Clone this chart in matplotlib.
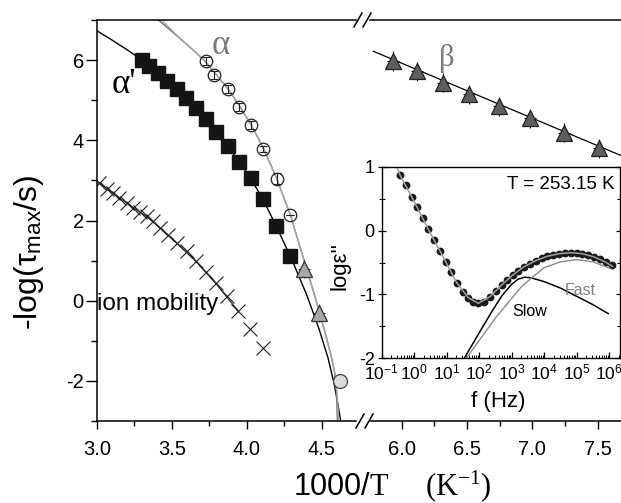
import numpy as np
import matplotlib.pyplot as plt
from matplotlib.lines import Line2D
from matplotlib.ticker import MultipleLocator, LogLocator, NullFormatter

plt.rcParams['font.family'] = ['Liberation Sans', 'DejaVu Sans']
plt.rcParams['axes.unicode_minus'] = False
plt.rcParams['mathtext.fontset'] = 'custom'
plt.rcParams['mathtext.rm'] = 'Liberation Serif'
plt.rcParams['mathtext.it'] = 'Liberation Serif:italic'

# ---- main panel data (x = 1000/T, y = -log tau) ----
sq_x = [3.298, 3.349, 3.404, 3.469, 3.531, 3.591, 3.658, 3.727, 3.791, 3.871,
        3.947, 4.025, 4.109, 4.192, 4.287]
sq_y = [6.00, 5.86, 5.67, 5.48, 5.28, 5.05, 4.80, 4.53, 4.21, 3.86,
        3.47, 3.05, 2.53, 1.86, 1.12]

circ_x = [3.724, 3.780, 3.875, 3.949, 4.027, 4.109, 4.198, 4.287]
circ_y = [5.97, 5.63, 5.28, 4.84, 4.38, 3.79, 3.04, 2.14]
circ_err = [0.10, 0.10, 0.10, 0.10, 0.10, 0.08, 0.14, 0.0]

tri_left_x = [4.382, 4.482]
tri_left_y = [0.79, -0.31]
gray_circ_x = [4.62]
gray_circ_y = [-2.0]

beta_x = [5.936, 6.12, 6.314, 6.517, 6.747, 6.982, 7.244, 7.512]
beta_y = [5.98, 5.72, 5.44, 5.15, 4.85, 4.55, 4.19, 3.80]
beta_line_x = [5.783, 7.678]
beta_line_y = [6.22, 3.62]

ion_x = [3.015, 3.065, 3.105, 3.149, 3.198, 3.242, 3.287, 3.331, 3.375, 3.420,
         3.473, 3.531, 3.597, 3.660, 3.727, 3.793, 3.867, 3.940, 4.020, 4.109]
ion_y = [2.94, 2.79, 2.69, 2.57, 2.44, 2.32, 2.21, 2.11, 1.98, 1.82,
         1.63, 1.44, 1.23, 0.98, 0.71, 0.43, 0.11, -0.25, -0.70, -1.18]
ion_line_x = [3.00, 3.065, 3.149, 3.242, 3.331, 3.420, 3.531, 3.660, 3.793, 3.940]
ion_line_y = [2.98, 2.80, 2.57, 2.32, 2.10, 1.82, 1.44, 0.98, 0.43, -0.25]

# fitted curves
ap_line_x = [3.00, 3.10, 3.20, 3.30, 3.40, 3.50, 3.60, 3.70, 3.80, 3.90,
             4.00, 4.10, 4.20, 4.30, 4.40, 4.48, 4.54, 4.58, 4.605, 4.625]
ap_line_y = [6.73, 6.50, 6.26, 6.00, 5.69, 5.38, 5.02, 4.64, 4.18, 3.71,
             3.19, 2.58, 1.82, 1.02, 0.13, -0.70, -1.42, -2.05, -2.55, -3.0]

a_line_x = [3.41, 3.55, 3.65, 3.72, 3.80, 3.88, 3.95, 4.03, 4.11, 4.20,
            4.29, 4.38, 4.44, 4.487, 4.53, 4.564, 4.585, 4.597, 4.603]
a_line_y = [7.00, 6.55, 6.22, 5.97, 5.62, 5.25, 4.86, 4.37, 3.80, 3.03,
            2.13, 1.02, 0.28, -0.33, -0.92, -1.42, -1.80, -2.30, -3.0]
a_line2_x = [3.43, 3.56, 3.66, 3.725, 3.80, 3.88, 3.95, 4.03, 4.11, 4.20,
             4.29, 4.38, 4.44, 4.487, 4.53, 4.565, 4.588, 4.602, 4.612]
a_line2_y = [7.00, 6.52, 6.19, 5.96, 5.62, 5.25, 4.86, 4.37, 3.80, 3.03,
             2.13, 1.00, 0.26, -0.35, -0.95, -1.45, -1.85, -2.35, -3.0]

# ---- inset data (log10 f, log eps'') ----
dot_logf = [-0.437, -0.252, -0.077, 0.095, 0.262, 0.434, 0.609, 0.794, 0.969, 1.132,
            1.308, 1.492, 1.665, 1.818, 1.972, 2.148, 2.332, 2.508, 2.692, 2.865,
            3.031, 3.203, 3.378, 3.563, 3.738, 3.923, 4.095, 4.280, 4.455, 4.640,
            4.815, 5.000, 5.172, 5.357, 5.532, 5.717, 5.892, 6.077]
dot_eps = [0.87, 0.713, 0.530, 0.364, 0.192, 0.020, -0.148, -0.315, -0.487, -0.654,
           -0.816, -0.957, -1.051, -1.114, -1.139, -1.114, -1.035, -0.941, -0.852, -0.774,
           -0.696, -0.628, -0.566, -0.520, -0.472, -0.435, -0.402, -0.378, -0.362, -0.350,
           -0.346, -0.350, -0.362, -0.383, -0.413, -0.452, -0.495, -0.545]
fit_logf = [-0.54, -0.437, -0.077, 0.434, 0.969, 1.308, 1.665, 1.972, 2.332, 2.692,
            3.031, 3.378, 3.738, 4.095, 4.455, 4.815, 5.172, 5.532, 5.892, 6.10]
fit_eps = [1.0, 0.87, 0.530, 0.020, -0.487, -0.816, -1.051, -1.139, -1.035, -0.852,
           -0.696, -0.566, -0.472, -0.402, -0.362, -0.346, -0.362, -0.413, -0.495, -0.56]
slow_logf = [1.54, 2.0, 2.4, 2.7, 3.0, 3.2, 3.4, 3.6, 4.0, 4.5, 5.0, 5.5, 5.97]
slow_eps = [-2.0, -1.60, -1.26, -1.02, -0.84, -0.76, -0.73, -0.74, -0.80, -0.90,
            -1.03, -1.16, -1.30]
fast_logf = [1.60, 2.0, 2.5, 3.0, 3.3, 3.66, 4.0, 4.5, 5.0, 5.5, 6.02]
fast_eps = [-2.0, -1.72, -1.37, -1.06, -0.88, -0.72, -0.58, -0.49, -0.455, -0.49, -0.59]

W, H = 621, 503


def fbox(x0, y0, x1, y1):
    return [x0 / W, 1 - y1 / H, (x1 - x0) / W, (y1 - y0) / H]


fig = plt.figure(figsize=(W / 100, H / 100), dpi=100)
ax1 = fig.add_axes(fbox(97, 20, 356, 421))
ax2 = fig.add_axes(fbox(370, 20, 621, 421))
axi = fig.add_axes(fbox(381.7, 166.7, 620, 358.3))

for ax in (ax1, ax2):
    ax.set_ylim(-3, 7)
    ax.xaxis.set_major_locator(MultipleLocator(0.5))
    ax.xaxis.set_minor_locator(MultipleLocator(0.25))
    ax.spines['right'].set_visible(False)
    for s in ax.spines.values():
        s.set_linewidth(1.1)
    ax.tick_params(axis='x', which='major', direction='out', length=6, width=1,
                   labelsize=14.5, pad=8)
    ax.tick_params(axis='x', which='minor', direction='out', length=3.5, width=1)

ax1.set_xlim(3.0, 4.727)
ax2.set_xlim(5.7575, 7.678)
ax1.yaxis.set_major_locator(MultipleLocator(2))
ax1.yaxis.set_minor_locator(MultipleLocator(1))
ax1.tick_params(axis='y', which='major', direction='out', length=8, width=1,
                labelsize=14.5, pad=1.5)
ax1.tick_params(axis='y', which='minor', direction='out', length=4, width=1)
ax2.spines['left'].set_visible(False)
ax2.tick_params(axis='y', which='both', left=False, labelleft=False)

# main panel marks
ax1.plot(ion_line_x, ion_line_y, color='#333333', lw=1.0)
ax1.plot(ion_x, ion_y, 'x', color='#222222', ms=10, mew=0.8)
ax1.plot(ap_line_x, ap_line_y, color='black', lw=1.0)
ax1.plot(a_line_x, a_line_y, color='#6e6e6e', lw=1.0)
ax1.plot(a_line2_x, a_line2_y, color='#a8a8a8', lw=1.0)
ax1.plot(sq_x, sq_y, 's', color='#151515', ms=9.5)
ax1.plot(circ_x, circ_y, 'o', mfc='none', mec='#222222', ms=9, mew=0.9)
ax1.errorbar(circ_x, circ_y, yerr=circ_err, fmt='none', ecolor='#222222',
             elinewidth=0.8, capsize=3, capthick=0.8)
ax1.errorbar(tri_left_x, tri_left_y, yerr=0.22, fmt='^', ms=11.5, mfc='#a8a8a8',
             mec='#333333', mew=0.9, ecolor='#222222', elinewidth=0.8, capsize=0)
ax1.plot(tri_left_x, tri_left_y, '_', color='#222222', ms=9, mew=0.8)
ax1.plot(gray_circ_x, gray_circ_y, 'o', mfc='#dcdcdc', mec='#444444', ms=10, mew=0.9)

ax2.plot(beta_line_x, beta_line_y, color='black', lw=0.9)
ax2.errorbar(beta_x, beta_y, yerr=0.24, fmt='^', ms=11.5, mfc='#5e5e5e',
             mec='#222222', mew=0.9, ecolor='#111111', elinewidth=0.8, capsize=0)
ax2.plot(beta_x, beta_y, '_', color='#111111', ms=9, mew=0.8)

ax1.text(3.825, 6.36, '\u03b1', color='#7a7a7a', fontsize=25,
         family='Liberation Serif', ha='center', va='center')
ax1.text(3.18, 5.40, "\u03b1'", color='black', fontsize=25,
         family='Liberation Serif', ha='center', va='center')
ax2.text(6.344, 6.05, '\u03b2', color='#7a7a7a', fontsize=22,
         family='Liberation Serif', ha='center', va='center')
ax1.text(3.0, -0.225, 'ion mobility', fontsize=17.5, ha='left', va='baseline')

# inset
axi.set_xscale('log')
axi.set_xlim(0.1, 2.15e6)
axi.set_ylim(-2, 1)
axi.plot(10 ** np.array(dot_logf), dot_eps, 'o', color='#1a1a1a', ms=4.6)
axi.plot(10 ** np.array(fit_logf), fit_eps, color='#a0a0a0', lw=1.1)
axi.plot(10 ** np.array(slow_logf), slow_eps, color='black', lw=1.1)
axi.plot(10 ** np.array(fast_logf), fast_eps, color='#8a8a8a', lw=1.0)
axi.xaxis.set_major_locator(LogLocator(base=10, numticks=20))
axi.xaxis.set_minor_locator(LogLocator(base=10, subs=np.arange(2, 10), numticks=20))
axi.xaxis.set_minor_formatter(NullFormatter())
axi.yaxis.set_major_locator(MultipleLocator(1))
axi.yaxis.set_minor_locator(MultipleLocator(0.5))
axi.tick_params(axis='x', which='major', direction='in', length=4, width=0.9,
                labelsize=12.5, pad=3)
axi.tick_params(axis='x', which='minor', direction='in', length=2, width=0.7)
axi.tick_params(axis='y', which='major', direction='inout', length=6, width=0.9,
                labelsize=13, pad=2, right=True)
axi.tick_params(axis='y', which='minor', direction='inout', length=4, width=0.8,
                right=True)
for s in axi.spines.values():
    s.set_linewidth(1.0)
axi.text(0.7516, 0.9045, 'T = 253.15 K', transform=axi.transAxes, fontsize=13.5,
         ha='center', va='center')
axi.text(0.832, 0.356, 'Fast', transform=axi.transAxes, fontsize=11.5,
         color='#808080', ha='center', va='center')
axi.text(0.622, 0.246, 'Slow', transform=axi.transAxes, fontsize=11.5,
         color='black', ha='center', va='center')
fig.text(498 / W, 1 - 401 / H, 'f (Hz)', fontsize=16, ha='center', va='center')
fig.text(339.5 / W, 1 - 266 / H, "log\u03b5''", fontsize=16, rotation=90,
         ha='center', va='center')

# axis labels
fig.text(29 / W, 1 - 252 / H, '-log(\u03c4$_{\\mathregular{max}}$/s)', fontsize=23,
         rotation=90, ha='center', va='center')
fig.text(293 / W, 1 - 495 / H, r'1000/$\mathrm{T}$', fontsize=22,
         ha='left', va='baseline')
fig.text(425 / W, 1 - 495 / H, r'$\mathrm{(K^{-1})}$', fontsize=22,
         ha='left', va='baseline')

# axis break marks
for x0, y0 in [(354, 20), (363, 20), (356, 421), (365, 421)]:
    fig.add_artist(Line2D([x0 / W, (x0 + 8) / W], [1 - (y0 + 7) / H, 1 - (y0 - 7) / H],
                          transform=fig.transFigure, color='black', lw=1.1))

fig.savefig('out.png', dpi=100)
